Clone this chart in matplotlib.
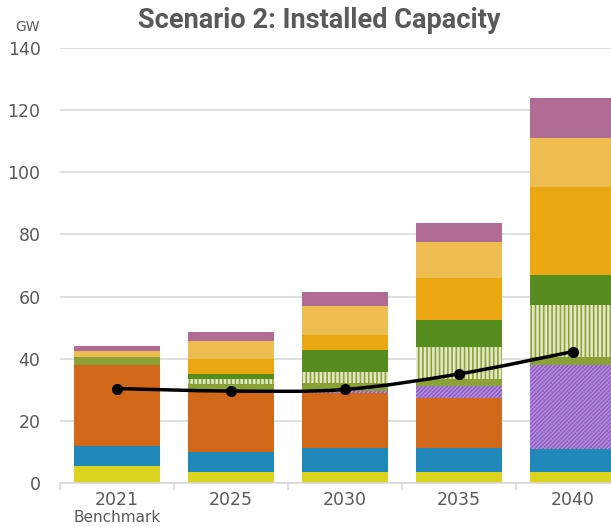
import numpy as np
import matplotlib.pyplot as plt
from matplotlib.path import Path
from matplotlib.patches import PathPatch

# wartosci (GW)
years = ['2021', '2025', '2030', '2035', '2040']
yellow = [5.6, 3.5, 3.4, 3.4, 3.4]
blue = [6.4, 6.5, 7.8, 7.8, 7.5]
orange = [26.0, 19.9, 17.7, 16.1, 0.0]
purple = [0.0, 0.0, 0.7, 3.9, 27.1]
olive = [2.4, 2.1, 2.5, 2.3, 2.5]
striped = [0.0, 1.4, 3.6, 10.2, 16.8]
dkgreen = [0.0, 1.6, 7.2, 8.9, 9.6]
gold = [0.0, 4.8, 4.7, 13.5, 28.5]
ltgold = [2.1, 5.9, 9.5, 11.4, 15.5]
mauve = [1.6, 2.8, 4.5, 6.2, 12.9]
peak = [30.4, 29.6, 30.1, 35.1, 42.3]

gray = '#595959'
plt.rcParams['hatch.linewidth'] = 1.2

fig = plt.figure(figsize=(6.11, 5.27), dpi=100)
ax = fig.add_axes([60 / 611, 44 / 527, 570 / 611, 435 / 527])

x_pos = np.arange(len(years))
w = 0.76
bottom = np.zeros(len(years))

layers = [
    (yellow, '#DCD321', None, None),
    (blue, '#1F88B8', None, None),
    (orange, '#D2691A', None, None),
    (purple, '#B995DD', '////////', '#8E5FC4'),
    (olive, '#8BA135', None, None),
    (striped, '#E2E8C6', '||||', '#8CA33A'),
    (dkgreen, '#578C1F', None, None),
    (gold, '#EBA711', None, None),
    (ltgold, '#EDBD52', None, None),
    (mauve, '#B06C95', None, None),
]
for vals, col, hatch, hcol in layers:
    vals = np.array(vals)
    if hatch:
        ax.bar(x_pos, vals, w, bottom=bottom, color=col, hatch=hatch,
               edgecolor=hcol, linewidth=0, zorder=2)
    else:
        ax.bar(x_pos, vals, w, bottom=bottom, color=col, linewidth=0, zorder=2)
    bottom += vals

# wygladzona linia (Catmull-Rom -> bezier) jak w Excelu
pts = np.column_stack([x_pos, peak]).astype(float)
ext = np.vstack([pts[0], pts, pts[-1]])
verts = [tuple(pts[0])]
codes = [Path.MOVETO]
for i in range(len(pts) - 1):
    p0, p1, p2, p3 = ext[i], ext[i + 1], ext[i + 2], ext[i + 3]
    c1 = p1 + (p2 - p0) / 6
    c2 = p2 - (p3 - p1) / 6
    verts += [tuple(c1), tuple(c2), tuple(p2)]
    codes += [Path.CURVE4] * 3
ax.add_patch(PathPatch(Path(verts, codes), facecolor='none', edgecolor='black',
                       linewidth=2.5, zorder=4))
ax.plot(x_pos, peak, 'o', color='black', markersize=7, zorder=5)

ax.set_xlim(-0.5, 4.5)
ax.set_ylim(0, 140)
ax.set_yticks(np.arange(0, 141, 20))
ax.yaxis.grid(True, color='#D9D9D9', linewidth=1.2, zorder=0)
ax.set_axisbelow(True)
for s in ['top', 'right', 'left']:
    ax.spines[s].set_visible(False)
ax.spines['bottom'].set_color('#D9D9D9')
ax.spines['bottom'].set_linewidth(1.2)

ax.set_xticks(x_pos)
ax.set_xticklabels(years)
ax.set_xticks(np.arange(-0.5, 5, 1), minor=True)
ax.tick_params(axis='x', which='major', length=0, pad=6, labelsize=12.5, labelcolor=gray)
ax.tick_params(axis='x', which='minor', length=5, color='#D9D9D9', width=1.2)
ax.tick_params(axis='y', length=0, pad=14, labelsize=12.5, labelcolor=gray)

ax.text(0, -8.6, 'Benchmark', ha='center', va='top', fontsize=11, color=gray)
fig.text(15 / 611, 1 - 27 / 527, 'GW', ha='left', va='center', fontsize=10, color=gray)
fig.text(319 / 611, 1 - 21 / 527, 'Scenario 2: Installed Capacity', ha='center', va='center',
         fontsize=19.5, fontweight='bold', color=gray, family='Roboto')

fig.savefig('out.png', dpi=100)
